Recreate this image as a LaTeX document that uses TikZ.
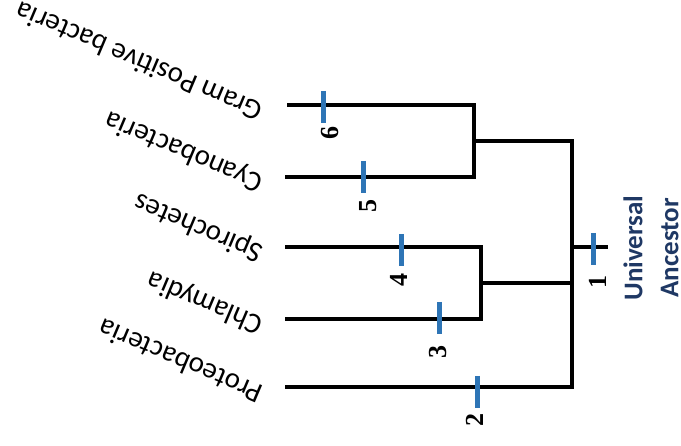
\documentclass[tikz,border=0pt]{standalone}
\usepackage{fontspec}
\setmainfont{Carlito}
\newfontfamily\numfont{Liberation Serif}
\usetikzlibrary{positioning}

\definecolor{tickblue}{HTML}{2E75B6}
\definecolor{navy}{HTML}{1F3864}

\begin{document}
\begin{tikzpicture}[x=1pt, y=-1pt,
  branch/.style={line width=3.2pt, line join=miter},
  tick/.style={draw=tickblue, line width=5pt},
  taxon/.style={rotate=157, anchor=base west, inner sep=0pt, font=\fontsize{29}{29}\selectfont},
  num/.style={rotate=90, inner sep=0pt, font=\numfont\bfseries\fontsize{26}{26}\selectfont}]
\useasboundingbox (0,0) rectangle (681,446);

% tips and splits
\coordinate (gp) at (287,105);
\coordinate (cy) at (285,177);
\coordinate (sp) at (285,247);
\coordinate (ch) at (285,319);
\coordinate (pr) at (285,387);
\coordinate (a) at (474,141);
\coordinate (b) at (481,283);
\coordinate (r) at (572,247);
\coordinate (ua) at (608,247);

% tree
\draw[branch] (gp) -| (a) |- (cy);
\draw[branch] (sp) -| (b) |- (ch);
\draw[branch] (a) -| (r) |- (pr);
\draw[branch] (b) -- (b -| r);
\draw[branch] (r) -- (ua);

% names
\node[taxon] (gpl) at (265,105) {Gram Positive bacteria};
\node[taxon] (cyl) at (265,177) {Cyanobacteria};
\node[taxon] (spl) at (265,247) {Spirochetes};
\node[taxon] (chl) at (265,319) {Chlamydia};
\node[taxon] (prl) at (265,387) {Proteobacteria};

% changes along the branches
\foreach \n/\x/\y/\lx/\ly in {6/323/107/330/133, 5/363/177/368/206, 4/401/250/399/280,
                              3/439/318/438/352, 2/477/392/475/420, 1/593/249/598/282}{
  \draw[tick] (\x,\y-16) -- (\x,\y+16);
  \node[num] (n\n) at (\lx,\ly) {\n};
}

\node[rotate=90, text=navy, align=center, inner sep=0pt,
      font=\bfseries\fontsize{27}{36}\selectfont] (anc) at (651,248) {Universal\\Ancestor};
\end{tikzpicture}
\end{document}
